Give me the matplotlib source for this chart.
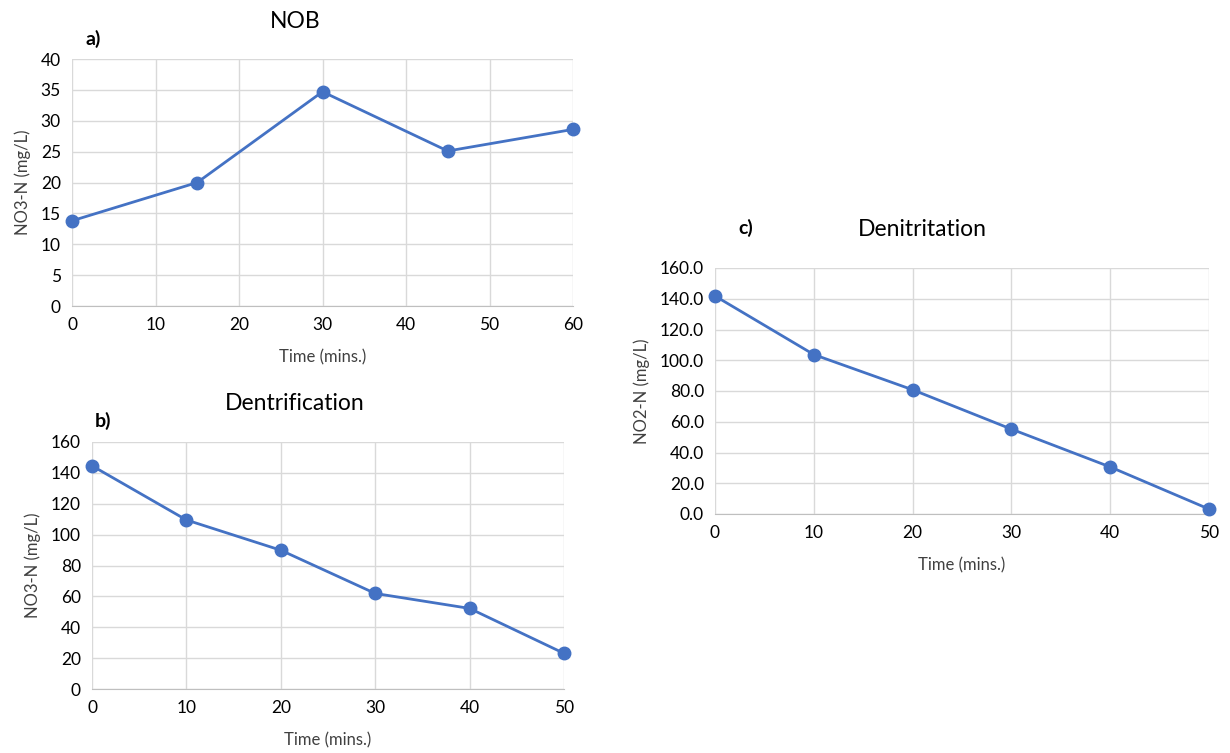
import matplotlib
matplotlib.use('Agg')
import matplotlib.pyplot as plt
from matplotlib.ticker import FormatStrFormatter

plt.rcParams['font.family'] = ['Lato', 'DejaVu Sans']

# NOB run (panel a)
time_a = [0, 15, 30, 45, 60]
no3_a = [13.8, 20.0, 34.7, 25.1, 28.6]

# denitrification run (panel b)
time_b = [0, 10, 20, 30, 40, 50]
no3_b = [144.6, 109.5, 89.9, 61.9, 52.2, 23.1]

# denitritation run (panel c)
time_c = [0, 10, 20, 30, 40, 50]
no2_c = [141.8, 103.7, 80.8, 55.2, 30.6, 3.2]

blue = '#4472C4'
grid_col = '#d9d9d9'
txt_col = '#404040'

fig = plt.figure(figsize=(12.3, 7.53), dpi=100)


def panel(rect, x, y, xlim, xticks, ylim, yticks, ylabel, title, tag,
          title_xy, tag_xy, yfmt=None):
    ax = fig.add_axes(rect)
    ax.plot(x, y, color=blue, lw=2.0, marker='o', ms=9, clip_on=False, zorder=3)
    ax.set_xlim(*xlim)
    ax.set_ylim(*ylim)
    ax.set_xticks(xticks)
    ax.set_yticks(yticks)
    if yfmt:
        ax.yaxis.set_major_formatter(FormatStrFormatter(yfmt))
    ax.grid(True, color=grid_col, lw=1.0)
    ax.set_axisbelow(True)
    for s in ['top', 'right', 'left']:
        ax.spines[s].set_visible(False)
    ax.spines['bottom'].set_color('#bfbfbf')
    ax.tick_params(length=0, labelsize=12.5, labelcolor='black', pad=8)
    ax.set_xlabel('Time (mins.)', fontsize=12, color=txt_col, labelpad=12)
    ax.set_ylabel(ylabel, fontsize=12, color=txt_col, labelpad=7)
    fig.text(title_xy[0] / 1230, 1 - title_xy[1] / 753, title, fontsize=16.5,
             ha='center', va='center', color='black')
    fig.text(tag_xy[0] / 1230, 1 - tag_xy[1] / 753, tag, fontsize=14,
             fontweight='bold', ha='center', va='center', color='black')
    return ax


panel([72 / 1230, 1 - 306 / 753, 501 / 1230, 247 / 753], time_a, no3_a,
      (0, 60), range(0, 61, 10), (0, 40), range(0, 41, 5),
      'NO3-N (mg/L)', 'NOB', 'a)', (295, 21), (93, 39))

panel([92 / 1230, 1 - 689 / 753, 472 / 1230, 247 / 753], time_b, no3_b,
      (0, 50), range(0, 51, 10), (0, 160), range(0, 161, 20),
      'NO3-N (mg/L)', 'Dentrification', 'b)', (295, 404), (103, 421))

panel([715 / 1230, 1 - 514 / 753, 494 / 1230, 246 / 753], time_c, no2_c,
      (0, 50), range(0, 51, 10), (0, 160), range(0, 161, 20),
      'NO2-N (mg/L)', 'Denitritation', 'c)', (922, 229), (746, 228), yfmt='%.1f')

fig.savefig('out.png', dpi=100, facecolor='white')
